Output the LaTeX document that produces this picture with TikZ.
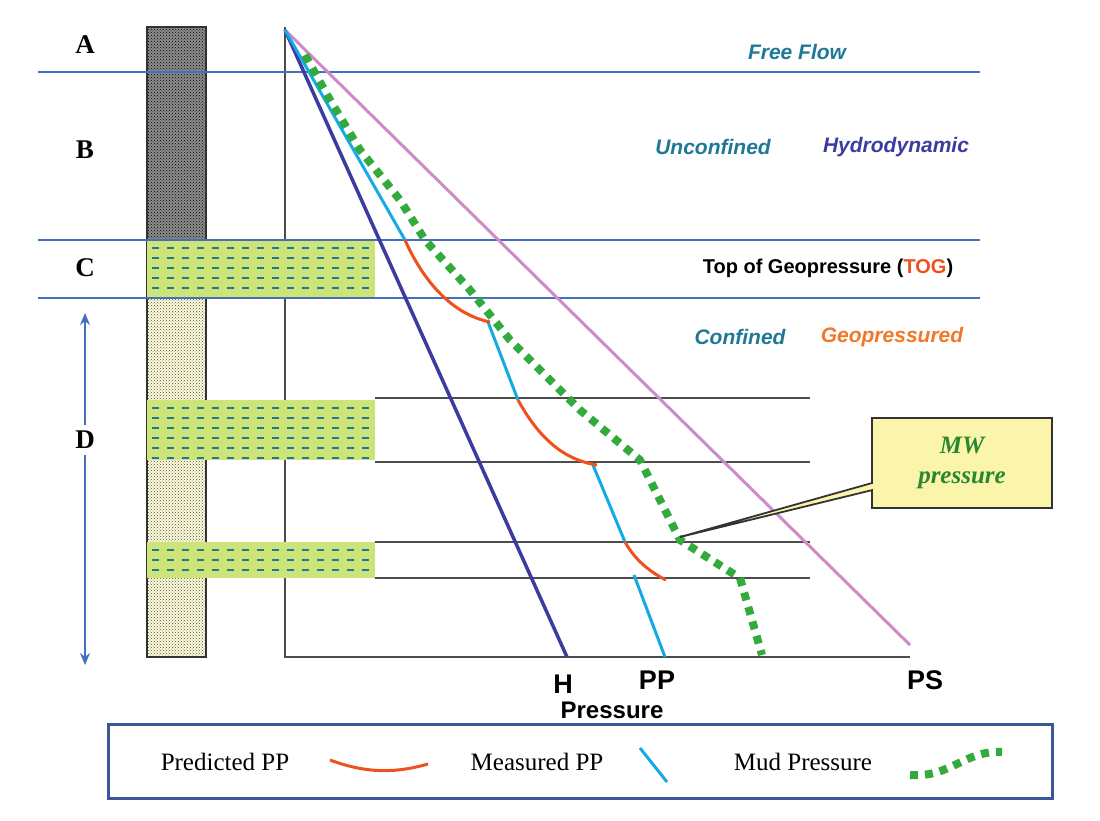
\documentclass[tikz,border=0pt]{standalone}
\usepackage{fontspec}
\setmainfont{Liberation Serif}
\setsansfont{Liberation Sans}
\usetikzlibrary{patterns,shapes.callouts,arrows.meta}
\definecolor{lineblue}{RGB}{70,110,190}
\definecolor{shale}{RGB}{205,228,120}
\definecolor{teal}{RGB}{30,120,150}
\definecolor{hblue}{RGB}{60,60,160}
\definecolor{psink}{RGB}{205,140,200}
\definecolor{ppcyan}{RGB}{20,170,230}
\definecolor{predred}{RGB}{240,80,30}
\definecolor{mudgreen}{RGB}{50,170,60}
\definecolor{geo}{RGB}{240,120,40}
\definecolor{note}{RGB}{250,245,170}
\begin{document}
\begin{tikzpicture}
[
    x=1pt, y=-1pt,
    shale band/.style={fill=shale, draw=none},
    layer line/.style={black!70, line width=1.5pt},
    zone line/.style={lineblue, line width=1.2pt},
    measured/.style={ppcyan, line width=3pt},
    predicted/.style={predred, line width=3pt},
    mud/.style={mudgreen, line width=8pt, dash pattern=on 8pt off 7pt},
    zone label/.style={font=\bfseries\fontsize{27}{30}\selectfont},
    regime/.style={font=\sffamily\itshape\bfseries\fontsize{21}{24}\selectfont},
    axis label/.style={font=\sffamily\bfseries\fontsize{27}{28}\selectfont, inner sep=0pt},
    legend text/.style={font=\fontsize{25}{28}\selectfont},
]
\useasboundingbox (0,0) rectangle (1100,820);
% sand and shale column
\fill[yellow!15] (147,27) rectangle (206,657);
\fill[black!45] (147,27) rectangle (206,240);
\fill[pattern=crosshatch dots, pattern color=black] (147,27) rectangle (206,240);
\fill[pattern=crosshatch dots, pattern color=black!70] (147,298) rectangle (206,657);
\draw[black!80, line width=1.5pt] (147,27) rectangle (206,657);
% axes
\coordinate (origin) at (285,30);
\draw[layer line] (285,27) -- (285,657) -- (910,657);
\foreach \top/\bot/\first/\second in {240/298/248/258, 400/460/408/418, 542/578/550/560}{
    \fill[shale band] (147,\top) rectangle (375,\bot);
    \foreach \yy in {\first,\second,...,\bot}
        \draw[teal, line width=1.8pt, dash pattern=on 7pt off 8pt] (152,\yy) -- (375,\yy);
}
% layer boundaries
\foreach \yy in {398,462,542,578}
    \draw[layer line] (375,\yy) -- (810,\yy);
\draw[black, line width=2.5pt] (375,240) -- (980,240);
\draw[zone line] (38,72) -- (980,72);
\draw[zone line] (38,240) -- (980,240);
\draw[zone line] (38,298) -- (980,298);
% gradients
\node[axis label] (H) at (563,684) {H};
\node[axis label] (PP) at (657,680) {PP};
\node[axis label] (PS) at (925,680) {PS};
\draw[hblue, line width=3.5pt] (origin) -- (567,657);
\draw[psink, line width=3pt] (origin) -- (910,645);
\draw[measured] (origin) -- (405,240);
\draw[measured] (488,322) -- (518,400);
\draw[measured] (593,465) -- (625,542);
\draw[measured] (634,575) -- (665,657);
\draw[predicted] (405,240) .. controls (425,285) and (455,315) .. (490,322);
\draw[predicted] (518,400) .. controls (540,440) and (565,460) .. (597,465);
\draw[predicted] (625,542) .. controls (635,560) and (650,572) .. (666,580);
\draw[mud] (305,55) -- (330,100) -- (360,150) -- (400,200) -- (425,240)
    -- (470,290) -- (510,340) -- (540,370) -- (580,410) -- (640,460)
    -- (680,540) -- (740,578) -- (762,655);
% callout
\node[shape=rectangle callout, draw=black!80, line width=1.8pt, fill=note,
    minimum width=180pt, minimum height=90pt, callout absolute pointer={(680,537)},
    align=center, text=mudgreen!80!black,
    font=\itshape\bfseries\fontsize{25}{30}\selectfont] (MW) at (962,463) {MW\\pressure};
% zone labels
\node[zone label] (A) at (85,45) {A};
\node[zone label] (B) at (85,150) {B};
\node[zone label] (C) at (85,268) {C};
\draw[lineblue, line width=2pt, {Stealth[length=12pt,width=10pt]}-{Stealth[length=12pt,width=10pt]}] (85,313) -- (85,665);
\node[zone label, fill=white, inner sep=6pt] (D) at (85,440) {D};
\node[regime, text=teal] (free) at (797,52) {Free Flow};
\node[regime, text=teal] (unconf) at (713,147) {Unconfined};
\node[regime, text=hblue] (hydro) at (896,147) {Hydrodynamic};
\node[font=\sffamily\bfseries\fontsize{20}{22}\selectfont] (TOG) at (828,268)
    {Top of Geopressure (\textcolor{predred}{TOG})};
\node[regime, text=teal] (conf) at (740,337) {Confined};
\node[regime, text=geo] (geop) at (892,337) {Geopressured};
\node[font=\sffamily\bfseries\fontsize{24}{26}\selectfont, inner sep=0pt] (P) at (612,710) {Pressure};
% legend
\draw[lineblue!80!black, line width=3pt] (108,724) rectangle (1052,798);
\node[legend text] (lpred) at (225,762) {Predicted PP};
\draw[predicted] (330,760) .. controls (370,775) and (400,772) .. (428,764);
\node[legend text] (lmeas) at (537,762) {Measured PP};
\draw[measured] (640,748) -- (667,782);
\node[legend text] (lmud) at (803,762) {Mud Pressure};
\draw[mud] (910,775) .. controls (950,778) and (965,750) .. (1002,752);
\end{tikzpicture}
\end{document}
